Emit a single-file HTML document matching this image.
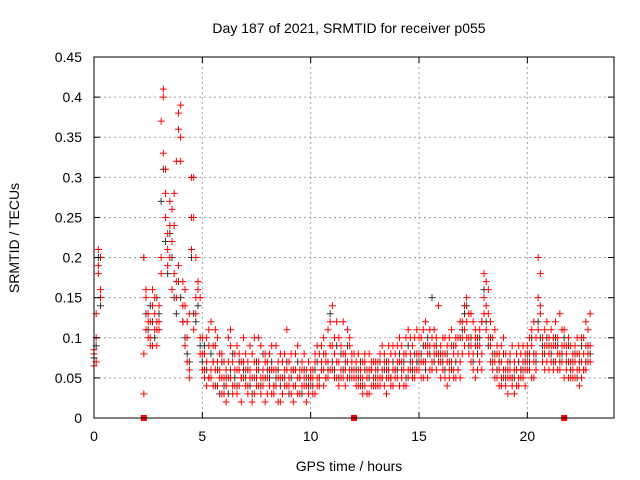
<!DOCTYPE html>
<html><head><meta charset="utf-8"><style>
body{margin:0;background:#fff}
svg{display:block;font-family:"Liberation Sans",sans-serif}
</style></head><body>
<svg id="chart" width="640" height="480">
<text x="349" y="33" text-anchor="middle" font-size="14">Day 187 of 2021, SRMTID for receiver p055</text>
<text x="349" y="471" text-anchor="middle" font-size="14">GPS time / hours</text>
<text transform="translate(19,238) rotate(-90)" text-anchor="middle" font-size="14">SRMTID / TECUs</text>
<g id="grid"></g><g id="marks"></g><g id="axes"></g>
</svg>
<script>
const hours=[0,0.1,0.2,0.3,
2.3,2.4,2.5,2.6,2.7,2.8,2.9,
3.0,3.1,3.2,3.3,3.4,3.5,3.6,3.7,3.8,3.9,
4.0,4.1,4.2,4.3,4.4,4.5,4.6,4.7,4.8,4.9,
5.0,5.1,5.2,5.3,5.4,5.5,5.6,5.7,5.8,5.9,
6.0,6.1,6.2,6.3,6.4,6.5,6.6,6.7,6.8,6.9,
7.0,7.1,7.2,7.3,7.4,7.5,7.6,7.7,7.8,7.9,
8.0,8.1,8.2,8.3,8.4,8.5,8.6,8.7,8.8,8.9,
9.0,9.1,9.2,9.3,9.4,9.5,9.6,9.7,9.8,9.9,
10.0,10.1,10.2,10.3,10.4,10.5,10.6,10.7,10.8,10.9,
11.0,11.1,11.2,11.3,11.4,11.5,11.6,11.7,11.8,11.9,
12.0,12.1,12.2,12.3,12.4,12.5,12.6,12.7,12.8,12.9,
13.0,13.1,13.2,13.3,13.4,13.5,13.6,13.7,13.8,13.9,
14.0,14.1,14.2,14.3,14.4,14.5,14.6,14.7,14.8,14.9,
15.0,15.1,15.2,15.3,15.4,15.5,15.6,15.7,15.8,15.9,
16.0,16.1,16.2,16.3,16.4,16.5,16.6,16.7,16.8,16.9,
17.0,17.1,17.2,17.3,17.4,17.5,17.6,17.7,17.8,17.9,
18.0,18.1,18.2,18.3,18.4,18.5,18.6,18.7,18.8,18.9,
19.0,19.1,19.2,19.3,19.4,19.5,19.6,19.7,19.8,19.9,
20.0,20.1,20.2,20.3,20.4,20.5,20.6,20.7,20.8,20.9,
21.0,21.1,21.2,21.3,21.4,21.5,21.6,21.7,21.8,21.9,
22.0,22.1,22.2,22.3,22.4,22.5,22.6,22.7,22.8,22.9];
const redA=[.08,.07,.19,.16,
.03,.16,.12,.10,.14,.11,.09,
.14,.2,.41,.31,.19,.24,.22,.28,.17,.38,
.39,.17,.14,.1,.06,.3,.25,.2,.17,.15,
.08,.06,.1,.05,.12,.07,.09,.04,.06,.03,
.05,.02,.07,.09,.04,.06,.03,.08,.05,.1,
.06,.04,.09,.02,.07,.05,.1,.03,.06,.08,
.07,.04,.06,.03,.09,.05,.02,.07,.04,.11,
.04,.06,.02,.08,.05,.03,.07,.04,.06,.03,
.05,.03,.07,.04,.08,.06,.1,.05,.07,.12,
.14,.08,.05,.1,.06,.12,.04,.07,.09,.05,
.05,.07,.04,.06,.03,.08,.05,.06,.04,.07,
.06,.04,.08,.05,.07,.03,.09,.05,.06,.08,
.07,.1,.05,.08,.04,.11,.06,.09,.05,.08,
.08,.05,.11,.07,.09,.06,.1,.08,.06,.14,
.07,.1,.05,.09,.06,.11,.08,.05,.1,.07,
.1,.14,.12,.08,.13,.06,.11,.09,.07,.12,
.18,.14,.16,.09,.06,.11,.05,.08,.04,.1,
.06,.03,.08,.05,.07,.04,.09,.06,.05,.08,
.07,.1,.05,.12,.06,.2,.18,.08,.11,.07,
.1,.07,.09,.12,.06,.08,.11,.05,.09,.07,
.07,.05,.09,.06,.08,.1,.06,.09,.11,.07];
const redB=[.065,.13,.21,.2,
.2,.11,.13,.09,.16,.13,.12,
.12,.37,.33,.28,.23,.2,.26,.18,.15,.36,
.32,.12,.16,.07,.05,.25,.3,.13,.16,.1,
.1,.05,.07,.09,.06,.04,.11,.07,.05,.08,
.03,.06,.1,.05,.07,.04,.09,.06,.02,.07,
.04,.07,.05,.08,.03,.06,.04,.09,.05,.02,
.05,.08,.03,.06,.04,.07,.05,.03,.08,.06,
.07,.03,.06,.04,.09,.06,.04,.05,.02,.07,
.04,.06,.03,.09,.05,.07,.04,.08,.11,.06,
.06,.1,.07,.04,.09,.05,.08,.11,.06,.08,
.06,.04,.08,.05,.07,.04,.06,.03,.07,.05,
.04,.07,.05,.09,.04,.06,.05,.08,.04,.06,
.05,.07,.09,.04,.1,.06,.08,.05,.1,.06,
.06,.1,.07,.12,.05,.09,.07,.11,.08,.07,
.09,.06,.08,.04,.1,.07,.05,.09,.06,.12,
.08,.11,.15,.1,.07,.12,.05,.1,.09,.06,
.13,.17,.1,.12,.08,.07,.09,.04,.07,.06,
.04,.07,.05,.09,.03,.06,.05,.08,.07,.04,
.09,.06,.11,.07,.1,.15,.14,.1,.06,.09,
.08,.11,.06,.09,.1,.13,.07,.09,.06,.1,
.09,.06,.05,.08,.04,.07,.1,.06,.08,.13];
const redC=[.085,.1,.18,.15,
.08,.15,.10,.12,.09,.15,.11,
.11,.18,.4,.25,.21,.27,.16,.24,.32,.19,
.35,.14,.09,.12,.13,.21,.11,.15,.17,.08,
.06,.08,.04,.11,.05,.09,.06,.1,.08,.05,
.07,.04,.05,.11,.03,.08,.06,.04,.07,.05,
.08,.03,.06,.05,.1,.04,.07,.05,.04,.07,
.03,.06,.09,.04,.06,.02,.08,.05,.06,.04,
.05,.08,.04,.06,.03,.05,.06,.08,.04,.05,
.06,.05,.08,.05,.04,.09,.06,.07,.05,.09,
.09,.05,.12,.07,.05,.08,.06,.05,.1,.07,
.08,.05,.06,.04,.05,.07,.03,.08,.06,.04,
.07,.05,.04,.06,.08,.05,.07,.04,.09,.05,
.09,.04,.07,.06,.08,.05,.1,.07,.06,.11,
.1,.07,.05,.09,.08,.11,.06,.09,.1,.08,
.05,.08,.1,.07,.05,.09,.06,.1,.08,.05,
.12,.09,.1,.13,.09,.08,.1,.06,.11,.08,
.15,.11,.13,.07,.1,.05,.08,.06,.09,.05,
.08,.05,.06,.04,.06,.08,.04,.05,.09,.06,
.06,.08,.09,.05,.08,.11,.13,.07,.09,.12,
.06,.09,.1,.07,.08,.06,.09,.11,.08,.05,
.05,.08,.07,.1,.06,.05,.08,.12,.07,.09];
const black=[.075,.09,.2,.14,
.2,.13,.11,.14,.12,.1,.15,
.13,.27,.31,.22,.18,.23,.2,.15,.13,.17,
.15,.12,.1,.08,.07,.2,.13,.12,.14,.09,
.07,.09,.06,.05,.08,.07,.04,.06,.03,.07,
.04,.05,.03,.06,.08,.05,.04,.07,.05,.06,
.05,.06,.04,.03,.05,.07,.06,.04,.08,.05,
.06,.05,.07,.04,.05,.06,.04,.03,.05,.07,
.03,.05,.06,.04,.07,.05,.03,.06,.05,.04,
.05,.04,.06,.07,.05,.06,.08,.05,.06,.13,
.07,.06,.09,.05,.08,.06,.07,.09,.05,.06,
.05,.06,.05,.07,.04,.06,.05,.05,.06,.05,
.05,.06,.07,.05,.06,.07,.06,.05,.07,.06,
.06,.08,.06,.07,.05,.09,.07,.06,.08,.07,
.07,.08,.09,.06,.1,.08,.15,.07,.09,.08,
.08,.07,.06,.08,.07,.06,.09,.07,.06,.1,
.11,.13,.14,.09,.1,.07,.09,.08,.1,.12,
.16,.12,.09,.1,.07,.08,.06,.07,.05,.08,
.05,.06,.07,.05,.05,.06,.07,.06,.06,.07,
.08,.07,.1,.08,.07,.12,.1,.09,.08,.1,
.09,.08,.07,.1,.09,.07,.08,.1,.07,.09,
.06,.07,.08,.05,.07,.09,.06,.07,.09,.08];
const gapHours=[2.3,12.0,21.7];
const xTicks=[0,5,10,15,20];
const yTicks=[0,0.05,0.1,0.15,0.2,0.25,0.3,0.35,0.4,0.45];
const yTickLabels=["0","0.05","0.1","0.15","0.2","0.25","0.3","0.35","0.4","0.45"];

const NS="http://www.w3.org/2000/svg";
const L=94,R=614,T=57,B=418;
const xs=h=>L+h*(R-L)/24;
const ys=v=>B-v*(B-T)/0.45;
function mk(tag,attrs,parent){const e=document.createElementNS(NS,tag);for(const k in attrs)e.setAttribute(k,attrs[k]);parent.appendChild(e);return e;}
const grid=document.getElementById('grid'),marks=document.getElementById('marks'),axes=document.getElementById('axes');
xTicks.forEach(t=>{
  const x=xs(t);
  if(t>0){const g=mk('line',{x1:x,x2:x,y1:T,y2:B,stroke:'#a0a0a0','stroke-dasharray':'2,3','stroke-width':1},grid);
  
  }
  mk('line',{x1:x,x2:x,y1:B,y2:B-6,stroke:'#000'},axes);
  mk('line',{x1:x,x2:x,y1:T,y2:T+6,stroke:'#000'},axes);
  const tx=mk('text',{x:x,y:B+23,'text-anchor':'middle','font-size':14},axes);
  tx.textContent=t;
  
  
});
yTicks.forEach((t,i)=>{
  const y=ys(t);
  if(i>0){const g=mk('line',{x1:L,x2:R,y1:y,y2:y,stroke:'#a0a0a0','stroke-dasharray':'2,3','stroke-width':1},grid);
  
  }
  mk('line',{x1:L,x2:L+6,y1:y,y2:y,stroke:'#000'},axes);
  mk('line',{x1:R,x2:R-6,y1:y,y2:y,stroke:'#000'},axes);
  const tx=mk('text',{x:L-12,y:y+5,'text-anchor':'end','font-size':14},axes);
  tx.textContent=yTickLabels[i];
  
  
});
const frame=mk('rect',{x:L,y:T,width:R-L,height:B-T,fill:'none',stroke:'#000','stroke-width':1},axes);


function plus(h,v,col,name){
  const x=xs(h),y=ys(v);
  const p=mk('path',{d:`M${x-3.5},${y}h7M${x},${y-3.5}v7`,stroke:col,'stroke-width':1,fill:'none'},marks);
  
  
}
hours.forEach((h,i)=>plus(h,black[i],'#333','black-point'));
hours.forEach((h,i)=>{plus(h,redA[i],'#f00','red-point');plus(h,redB[i],'#f00','red-point');plus(h,redC[i],'#f00','red-point');});
gapHours.forEach(h=>{
  const r=mk('rect',{x:xs(h)-3,y:B-3,width:6,height:6,fill:'#f00'},marks);
  
  
});
</script>
</body></html>
